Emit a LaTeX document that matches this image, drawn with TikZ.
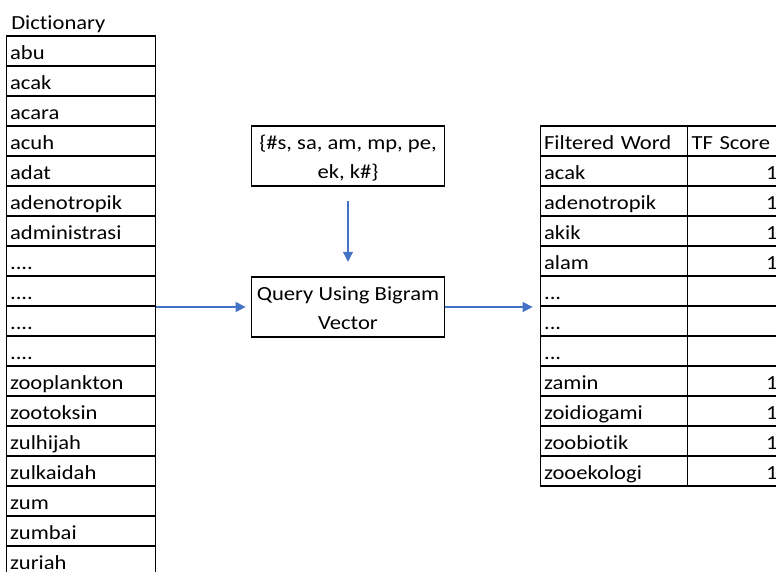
\documentclass[tikz,border=0pt]{standalone}
\usepackage{fontspec}
\setmainfont{Carlito}[FakeStretch=1.13, Ligatures={NoCommon}]
\usetikzlibrary{arrows.meta}

% placeholder rows (kept out of \foreach lists, where dots mean a range)
\newcommand\gapfour{....}
\newcommand\gapthree{...}

\begin{document}
\begin{tikzpicture}[x=0.75pt,y=-0.75pt,
  font=\fontsize{15}{18}\selectfont,
  cell/.style={draw=black, line width=0.8pt, rectangle, inner ysep=0pt,
    inner xsep=2.7pt, minimum height=22.5pt, text height=17pt, text depth=4.3pt},
  dictcell/.style={cell, text width=106.35pt, align=left},
  wordcell/.style={cell, text width=104.85pt, align=left},
  scorecell/.style={cell, text width=64.5pt, inner xsep=3pt, align=right},
  stepbox/.style={draw=black, line width=0.8pt, rectangle, inner sep=0pt,
    minimum width=144.75pt, minimum height=45pt, align=center,
    font=\fontsize{15}{21.5}\selectfont},
  flow/.style={draw={rgb,255:red,68;green,114;blue,196}, line width=0.8pt,
    -{Triangle[length=7.5pt,width=7.5pt]}},
  title/.style={anchor=base west, inner sep=0pt}
]
\useasboundingbox (0,0) rectangle (776,572);

% Dictionary list
\node[title] (dicttitle) at (11,29) {Dictionary};
\foreach \w [count=\i] in {abu,acak,acara,acuh,adat,adenotropik,administrasi,
    \gapfour,\gapfour,\gapfour,\gapfour,zooplankton,zootoksin,zulhijah,
    zulkaidah,zum,zumbai,zuriah}
  \node[dictcell] (d\i) at (81, {36+30*(\i-1)+15}) {\w};

% Bigram set and query step
\node[stepbox] (bigram) at (348,156)
  {\rule{0pt}{15.7pt}\{\#s, sa, am, mp, pe,\\ ek, k\#\}\rule[-4pt]{0pt}{4pt}};
\node[stepbox] (query) at (348,307)
  {\rule{0pt}{15.7pt}Query Using Bigram\\ Vector\rule[-4pt]{0pt}{4pt}};

% Filtered result table
\node[wordcell] (f0) at (614,141) {Filtered Word};
\node[scorecell, align=left] (s0) at (734.5,141) {TF Score};
\foreach \w/\s [count=\i] in {acak/1,adenotropik/1,akik/1,alam/1,
    \gapthree/{},\gapthree/{},\gapthree/{},
    zamin/1,zoidiogami/1,zoobiotik/1,zooekologi/1}{
  \node[wordcell] (f\i) at (614, {156+30*(\i-1)+15}) {\w};
  \node[scorecell] (s\i) at (734.5, {156+30*(\i-1)+15}) {\s};
}

% Connectors
\draw[flow, shorten <=11pt, shorten >=11pt] (bigram) -- (query);
\draw[flow, shorten >=4pt] (query.west -| d10.east) -- (query.west);
\draw[flow, shorten >=5.5pt] (query.east) -- (query.east -| f5.west);
\end{tikzpicture}
\end{document}
